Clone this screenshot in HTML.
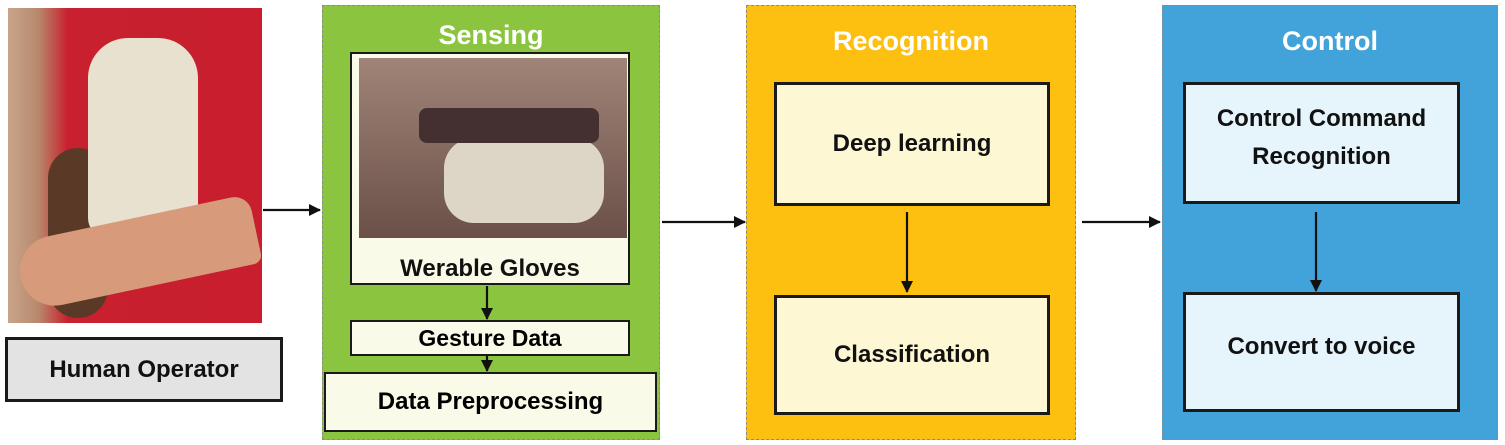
<!DOCTYPE html>
<html><head><meta charset="utf-8"><style>
body{margin:0;width:1505px;height:445px;background:#fff;position:relative;overflow:hidden;font-family:"Liberation Sans",sans-serif;font-weight:bold}
.a{position:absolute;box-sizing:border-box}
.t{display:flex;align-items:center;justify-content:center;text-align:center;color:#111}
.panel{border:1px dashed #8a8a8a}
.title{position:absolute;left:0;right:0;text-align:center;color:#fff;font-size:27px}
.box{border:3px solid #1a1a1a}
</style></head><body>
<div class="a" style="left:8px;top:8px;width:254px;height:315px;background:linear-gradient(90deg,#c9a48a 0,#b88a6c 30px,#c8202e 60px,#c81e2d 100%)">
 <div class="a" style="left:40px;top:140px;width:60px;height:170px;background:#5a3a26;border-radius:30px"></div>
 <div class="a" style="left:80px;top:30px;width:110px;height:200px;background:#e8e1d0;border-radius:40px 40px 20px 20px"></div>
 <div class="a" style="left:10px;top:210px;width:240px;height:70px;background:#d79a7a;border-radius:40px 20px 10px 40px;transform:rotate(-12deg)"></div>
</div>
<div class="a t box" style="left:5px;top:337px;width:278px;height:65px;background:#e3e3e3;font-size:24px">Human Operator</div>

<div class="a panel" style="left:322px;top:5px;width:338px;height:435px;background:#8bc53f"><div class="title" style="top:14px">Sensing</div></div>
<div class="a box" style="left:350px;top:52px;width:280px;height:233px;background:#fafae8;border-width:2px">
 <div class="a" style="left:7px;top:4px;width:268px;height:180px;background:linear-gradient(180deg,#a08478,#6a5048)">
  <div class="a" style="left:85px;top:80px;width:160px;height:85px;background:#ddd5c5;border-radius:30px"></div>
  <div class="a" style="left:60px;top:50px;width:180px;height:35px;background:#443030;border-radius:8px"></div>
 </div>
 <div class="a t" style="left:0;right:0;top:198px;height:34px;font-size:24px">Werable Gloves</div>
</div>
<div class="a box" style="left:350px;top:320px;width:280px;height:36px;background:#fafae8;border-width:2px;font-size:23px;display:flex;align-items:center;justify-content:center">Gesture Data</div>
<div class="a box" style="left:324px;top:372px;width:333px;height:60px;background:#fafae8;border-width:2px;font-size:24px;display:flex;align-items:center;justify-content:center">Data Preprocessing</div>

<div class="a panel" style="left:746px;top:5px;width:330px;height:435px;background:#fdbf10"><div class="title" style="top:20px">Recognition</div></div>
<div class="a t box" style="left:774px;top:82px;width:276px;height:124px;background:#fdf7d4;font-size:24px">Deep learning</div>
<div class="a t box" style="left:774px;top:295px;width:276px;height:120px;background:#fdf7d4;font-size:24px">Classification</div>

<div class="a panel" style="left:1162px;top:5px;width:336px;height:435px;background:#42a3db"><div class="title" style="top:20px">Control</div></div>
<div class="a t box" style="left:1183px;top:82px;width:277px;height:122px;background:#e6f4fb;font-size:24px;line-height:38px;padding-bottom:10px">Control Command<br>Recognition</div>
<div class="a t box" style="left:1183px;top:292px;width:277px;height:120px;background:#e6f4fb;font-size:24px;padding-bottom:10px">Convert to voice</div>

<svg class="a" style="left:0;top:0" width="1505" height="445">
<defs><marker id="m" markerWidth="12" markerHeight="12" refX="11" refY="6" orient="auto" markerUnits="userSpaceOnUse"><path d="M0,0 L12,6 L0,12 Z" fill="#111"/></marker></defs>
<g stroke="#111" stroke-width="2.2" fill="none" marker-end="url(#m)">
<line x1="263" y1="210" x2="320" y2="210"/>
<line x1="662" y1="222" x2="745" y2="222"/>
<line x1="1082" y1="222" x2="1160" y2="222"/>
<line x1="487" y1="286" x2="487" y2="319"/>
<line x1="487" y1="356" x2="487" y2="371"/>
<line x1="907" y1="212" x2="907" y2="292"/>
<line x1="1316" y1="212" x2="1316" y2="291"/>
</g></svg>
</body></html>
